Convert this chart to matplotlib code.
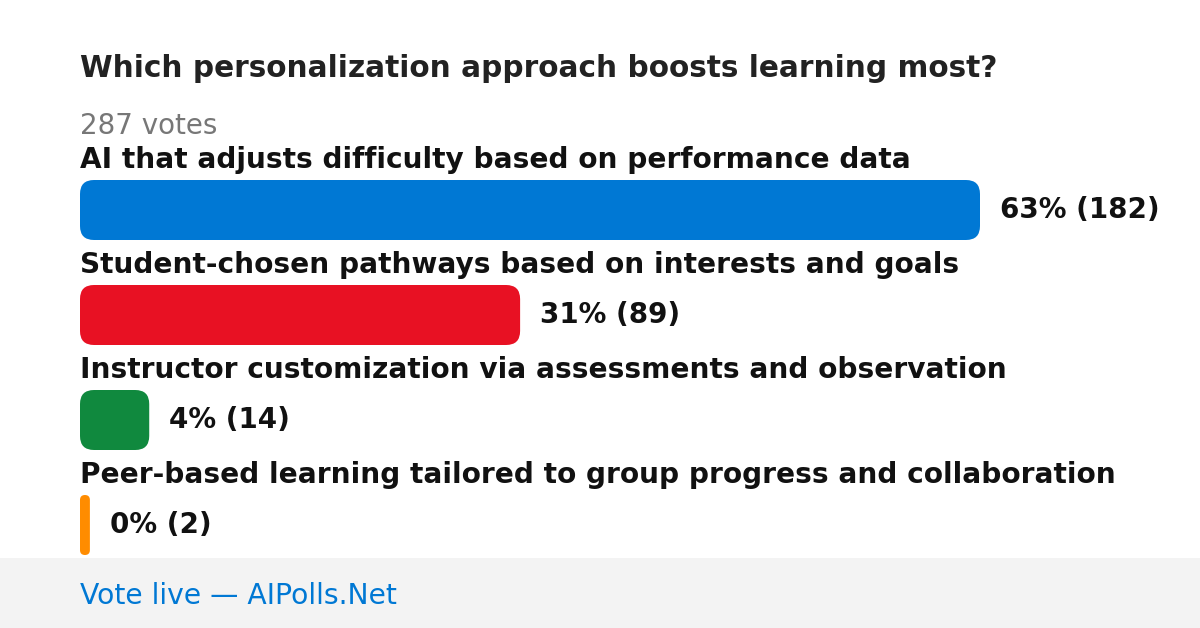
import matplotlib
matplotlib.use("Agg")
import matplotlib.pyplot as plt
from matplotlib.patches import FancyBboxPatch, Rectangle

plt.rcParams["font.family"] = ["DejaVu Sans"]

# Datos de la encuesta
titulo = "Which personalization approach boosts learning most?"
total_votos = 287
opciones = [
    "AI that adjusts difficulty based on performance data",
    "Student-chosen pathways based on interests and goals",
    "Instructor customization via assessments and observation",
    "Peer-based learning tailored to group progress and collaboration",
]
votos = [182, 89, 14, 2]
porcentajes = [63, 31, 4, 0]
colores = ["#0078D4", "#E81123", "#10893E", "#FF8C00"]
pie = "Vote live \u2014 AIPolls.Net"

W, H = 1200, 628
fig = plt.figure(figsize=(W / 100, H / 100), dpi=100)
ax = fig.add_axes([0, 0, 1, 1])
ax.set_xlim(0, W)
ax.set_ylim(H, 0)
ax.axis("off")

x0 = 80
ancho_max = 900
alto = 60
paso = 105
y_barra0 = 180

ax.text(x0, 77, titulo, fontsize=21.3, fontweight="bold", color="#222222", va="baseline")
ax.text(x0, 134, f"{total_votos} votes", fontsize=20, color="#777777", va="baseline")

maximo = max(votos)
for i, (txt, v, p, c) in enumerate(zip(opciones, votos, porcentajes, colores)):
    y = y_barra0 + i * paso
    ax.text(x0, y - 12, txt, fontsize=20.2, fontweight="bold", color="#111111", va="baseline")
    w = ancho_max * v / maximo
    r = min(14, w / 2)
    barra = FancyBboxPatch((x0 + r, y + r), w - 2 * r, alto - 2 * r,
                           boxstyle=f"round,pad={r},rounding_size={r}",
                           fc=c, ec="none")
    ax.add_patch(barra)
    ax.text(x0 + w + 20, y + alto / 2 + 8, f"{p}% ({v})", fontsize=20, fontweight="bold",
            color="#111111", va="baseline")

# Pie de pagina
ax.add_patch(Rectangle((0, 558), W, 70, fc="#F3F3F3", ec="none"))
ax.text(x0, 604, pie, fontsize=20.3, color="#0078D4", va="baseline")

fig.savefig("out.png", dpi=100)
